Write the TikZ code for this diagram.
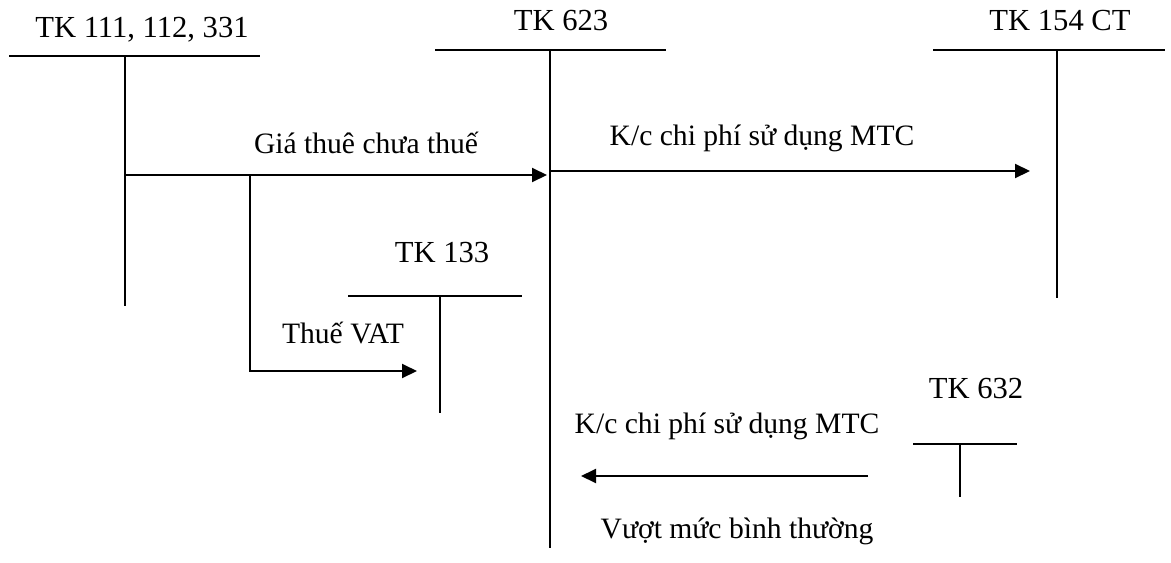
\documentclass[tikz,border=0pt]{standalone}
\usepackage{fontspec}
\setmainfont{Liberation Serif}
\usetikzlibrary{arrows.meta,positioning}

\begin{document}
\begin{tikzpicture}[x=0.5pt,y=-0.5pt,>={Triangle[length=7.5pt,width=7pt]},line width=1pt,
                    acct/.style={font=\fontsize{15.3}{18}\selectfont,anchor=base,inner sep=0pt},
                    note/.style={font=\fontsize{14.8}{18}\selectfont,anchor=base,inner sep=0pt}]
      \useasboundingbox (0,0) rectangle (1171,562);

      % account titles
      \node[acct] (tk111) at (142,37) {TK 111, 112, 331};
      \node[acct] (tk623) at (561,30) {TK 623};
      \node[acct] (tk154) at (1060,30) {TK 154 CT};
      \node[acct] (tk133) at (442,262) {TK 133};
      \node[acct] (tk632) at (976,398) {TK 632};

      % T accounts
      \draw (9,56) -- (260,56) (125,56) coordinate (t111) -- (125,306);
      \draw (435,50) -- (666,50) (550,50) coordinate (t623) -- (550,548);
      \draw (933,50) -- (1165,50) (1057,50) coordinate (t154) -- (1057,298);
      \draw (348,296) -- (522,296) (440,296) coordinate (t133) -- (440,413);
      \draw (913,444) -- (1017,444) (960,444) coordinate (t632) -- (960,497);

      % end points of the entries
      \coordinate (a) at (125,175);
      \coordinate (b) at (547,175);
      \coordinate (br) at (250,175);
      \coordinate (c) at (417,371);
      \coordinate (d) at (550,171);
      \coordinate (e) at (1030,171);
      \coordinate (f) at (868,476);
      \coordinate (g) at (581,476);

      \draw[->] (a) -- (b);
      \draw[->] (br) |- (c);
      \draw[->] (d) -- (e);
      \draw[->] (f) -- (g);

      \node[note] (gia) at (366,153) {Giá thuê chưa thuế};
      \node[note] (kc1) at (762,145) {K/c chi phí sử dụng MTC};
      \node[note] (vat) at (343,343) {Thuế VAT};
      \node[note] (kc2) at (727,433) {K/c chi phí sử dụng MTC};
      \node[note] (vuot) at (737,538) {Vượt mức bình thường};
\end{tikzpicture}
\end{document}
